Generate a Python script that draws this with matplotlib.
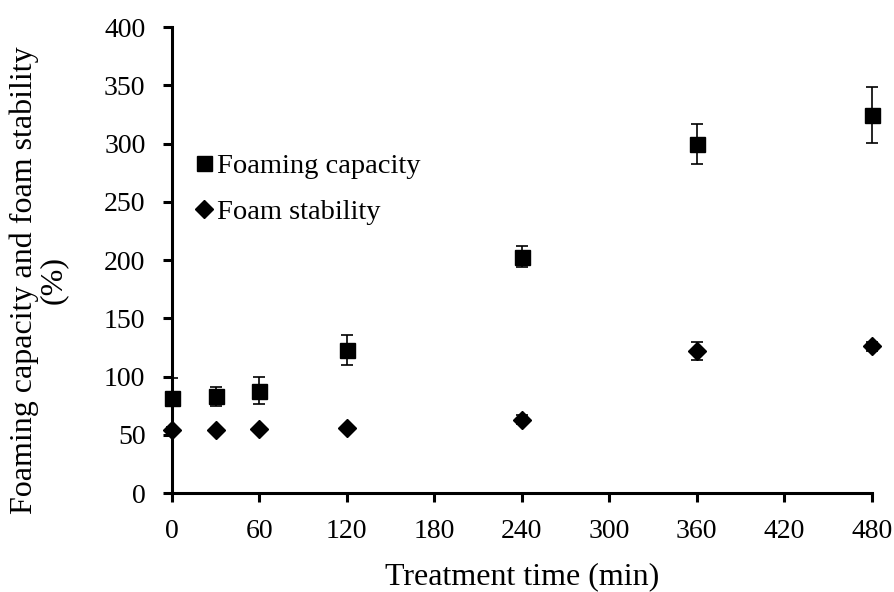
import numpy as np
import matplotlib.pyplot as plt
from matplotlib.lines import Line2D

plt.rcParams['font.family'] = ['Liberation Serif', 'DejaVu Serif']

time_min = [0, 30, 60, 120, 240, 360, 480]
foaming_capacity = [82, 83, 88, 123, 203, 300, 325]
foaming_capacity_err_low = [0, 8.5, 11.5, 13, 9, 17, 24]
foaming_capacity_err_high = [17, 8.5, 11.5, 13, 9, 17, 24]
foam_stability = [54, 54, 55, 56, 63, 122, 126]
foam_stability_err = [3, 2, 2, 2, 4, 7.5, 4]

fig = plt.figure(figsize=(8.95, 5.92), dpi=100)
ax = fig.add_axes([0.192, 0.167, 0.782, 0.787])

ax.errorbar(time_min, foaming_capacity,
            yerr=[foaming_capacity_err_low, foaming_capacity_err_high], fmt='s',
            color='black', markersize=10.8, ecolor='black', elinewidth=1.2,
            capsize=4.3, capthick=1.2, clip_on=False, zorder=3)
ax.errorbar(time_min, foam_stability, yerr=foam_stability_err, fmt='D',
            color='black', markersize=9, ecolor='black', elinewidth=1.2,
            capsize=4.3, capthick=1.2, clip_on=False, zorder=3)

ax.set_xlim(0, 480)
ax.set_ylim(0, 400)
ax.set_xticks(np.arange(0, 481, 60))
ax.set_yticks(np.arange(0, 401, 50))

for s in ['top', 'right']:
    ax.spines[s].set_visible(False)
for s in ['left', 'bottom']:
    ax.spines[s].set_linewidth(2.2)
ax.tick_params(direction='out', length=6.5, width=2.2, labelsize=20)
ax.tick_params(axis='x', pad=12)
ax.tick_params(axis='y', pad=12.5)

ax.set_xlabel('Treatment time (min)', fontsize=23, labelpad=13)
ax.set_ylabel('Foaming capacity and foam stability\n(%)', fontsize=23,
              linespacing=1.0)
ax.yaxis.set_label_coords(-0.148, 0.457)

handles = [Line2D([], [], ls='none', marker='s', color='black', markersize=10.8),
           Line2D([], [], ls='none', marker='D', color='black', markersize=9)]
ax.legend(handles, ['Foaming capacity', 'Foam stability'], loc='center left',
          bbox_to_anchor=(0.012, 0.653), frameon=False, fontsize=20.5,
          handletextpad=0.0, handlelength=0.9, labelspacing=0.68,
          borderaxespad=0.0)

fig.savefig('out.png', dpi=100)
